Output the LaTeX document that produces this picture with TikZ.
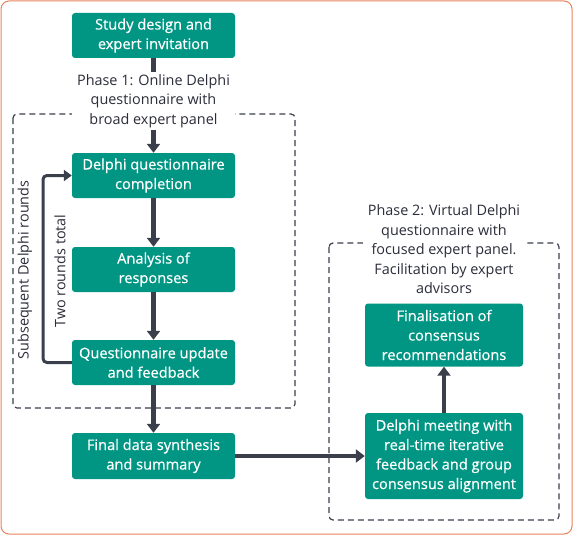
\documentclass[tikz,border=0pt]{standalone}
\usepackage{fontspec}
\setmainfont{Open Sans}
\newfontfamily\boxfont[FakeBold=0.6]{Open Sans}
\usetikzlibrary{arrows.meta}
\definecolor{teal}{HTML}{009683}
\definecolor{arrowc}{HTML}{3A3F4B}
\definecolor{frame}{HTML}{E8825A}
\definecolor{txt}{HTML}{2B2D3A}
\tikzset{
  box/.style={fill=teal, rounded corners=3pt, text=white, align=center, font=\boxfont\fontsize{14.6}{19.5}\selectfont, inner sep=0pt},
  flow/.style={draw=arrowc, line width=4.5pt, -{Triangle[length=9pt,width=13pt]}},
  loop/.style={draw=arrowc, line width=3pt, rounded corners=4pt, -{Triangle[length=8pt,width=11pt]}},
  phase/.style={fill=white, text=txt, align=center, font=\fontsize{14.4}{19.5}\selectfont, inner xsep=5pt, inner ysep=2pt},
  dbox/.style={draw=arrowc, line width=1.2pt, dash pattern=on 6pt off 4pt, rounded corners=4pt},
  side/.style={text=txt, font=\fontsize{14.4}{17}\selectfont, rotate=90}
}
\begin{document}
\begin{tikzpicture}[x=1pt,y=-1pt]
\useasboundingbox (0,0) rectangle (573,535);
\draw[frame, line width=1pt, rounded corners=8pt] (1,1) rectangle (572,534);
% dashed groups
\draw[dbox] (13,114) rectangle (295,408);
\draw[dbox] (329,243) rectangle (559,520);
% boxes
\node[box, minimum width=163pt, minimum height=45pt] (s) at (153.5,35.5) {Study design and\\expert invitation};
\node[box, minimum width=163pt, minimum height=45pt] (c) at (153.5,175.5) {Delphi questionnaire\\completion};
\node[box, minimum width=163pt, minimum height=45pt] (a) at (153.5,269.5) {Analysis of\\responses};
\node[box, minimum width=163pt, minimum height=45pt] (u) at (153.5,362.5) {Questionnaire update\\and feedback};
\node[box, minimum width=163pt, minimum height=46pt] (f) at (153.5,456) {Final data synthesis\\and summary};
\node[box, minimum width=158pt, minimum height=63pt] (r) at (444,335) {Finalisation of\\consensus\\recommendations};
\node[box, minimum width=158pt, minimum height=86pt] (m) at (444,456) {Delphi meeting with\\real-time iterative\\feedback and group\\consensus alignment};
% flows
\draw[flow] (s) -- (c);
\node[phase] (p1) at (153.5,101) {Phase 1: Online Delphi\\questionnaire with\\broad expert panel};
\draw[flow] (c) -- (a);
\draw[flow] (a) -- (u);
\draw[flow] (u) -- (f);
\draw[flow] (f) -- (m);
\draw[flow] (m) -- (r);
\node[phase] (p2) at (444,249.5) {Phase 2: Virtual Delphi\\questionnaire with\\focused expert panel.\\Facilitation by expert\\advisors};
% loop
\coordinate (l1) at (43,362.5);
\coordinate (l2) at (43,175.5);
\draw[loop] (u.west) -- (l1) -- (l2) -- (c.west);
\node[side] (t1) at (25,270) {Subsequent Delphi rounds};
\node[side] (t2) at (60,271) {Two rounds total};
\end{tikzpicture}
\end{document}
